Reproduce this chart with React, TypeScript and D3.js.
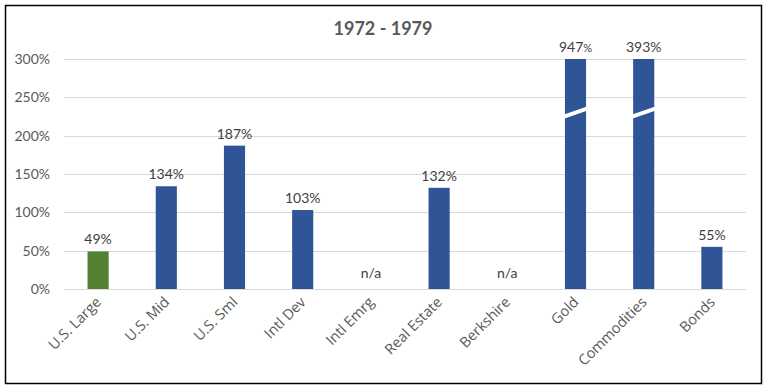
import { useRef, useEffect } from "react";
import * as d3 from "d3";

const categories = ["U.S. Large", "U.S. Mid", "U.S. Sml", "Intl Dev", "Intl Emrg", "Real Estate", "Berkshire", "Gold", "Commodities", "Bonds"];
const values: (number | null)[] = [49, 134, 187, 103, null, 132, null, 947, 393, 55];
const yTicks = [0, 50, 100, 150, 200, 250, 300];
const axisMax = 300;

export default function App() {
  const svgRef = useRef<SVGSVGElement>(null);

  useEffect(() => {
    const svg = d3.select(svgRef.current);
    svg.selectAll("*").remove();
    const W = 767, H = 389;
    const left = 64, right = 746, top = 59, bottom = 289;
    const font = "Lato, 'Open Sans', sans-serif";
    const catFont = "'Open Sans', sans-serif";

    // outer frame
    svg.append("rect").attr("x", 5.5).attr("y", 5.5).attr("width", W - 11).attr("height", H - 11)
      .attr("fill", "#fff").attr("stroke", "#000").attr("stroke-width", 1.5);

    svg.append("text").attr("x", 383).attr("y", 35).attr("text-anchor", "middle")
      .attr("font-family", font).attr("font-weight", "bold").attr("font-size", 18).attr("fill", "#595959")
      .text("1972 - 1979");

    const x = d3.scaleBand().domain(categories).range([left, right]).paddingInner(0.69).paddingOuter(0.345);
    const y = d3.scaleLinear().domain([0, axisMax]).range([bottom, top]);

    // gridlines + y labels
    svg.append("g").selectAll("line").data(yTicks).join("line")
      .attr("x1", left).attr("x2", right)
      .attr("y1", (d) => Math.round(y(d)) + 0.5).attr("y2", (d) => Math.round(y(d)) + 0.5)
      .attr("stroke", "#d9d9d9").attr("stroke-width", 1);
    svg.append("g").selectAll("text").data(yTicks).join("text")
      .attr("x", 50).attr("y", (d) => y(d) + 5).attr("text-anchor", "end")
      .attr("font-family", font).attr("font-size", 14).attr("fill", "#595959")
      .text((d) => `${d}%`);

    const data = categories.map((c, i) => ({ c, v: values[i] }));

    // bars (capped at axis max)
    svg.append("g").selectAll("rect").data(data.filter((d) => d.v !== null)).join("rect")
      .attr("x", (d) => x(d.c)!)
      .attr("width", x.bandwidth())
      .attr("y", (d) => y(Math.min(d.v!, axisMax)))
      .attr("height", (d) => bottom - y(Math.min(d.v!, axisMax)))
      .attr("fill", (d) => (d.c === "U.S. Large" ? "#548235" : "#2f5597"));

    // break marks for bars beyond the axis
    svg.append("g").selectAll("path").data(data.filter((d) => d.v !== null && d.v > axisMax)).join("path")
      .attr("d", (d) => {
        const x0 = x(d.c)! - 1, x1 = x(d.c)! + x.bandwidth() + 1;
        const yc = y(230);
        return `M${x0},${yc + 4} L${x1},${yc - 4}`;
      })
      .attr("stroke", "#fff").attr("stroke-width", 4);

    // value labels
    const lab = svg.append("g").selectAll("text").data(data).join("text")
      .attr("x", (d) => x(d.c)! + x.bandwidth() / 2)
      .attr("y", (d) => (d.v === null ? bottom - 11 : y(Math.min(d.v, axisMax)) - 7))
      .attr("text-anchor", "middle")
      .attr("font-family", font).attr("font-size", 14)
      .attr("fill", "#404040");
    lab.each(function (d) {
      const t = d3.select(this);
      if (d.v === null) { t.text("n/a"); return; }
      t.append("tspan").text(String(d.v));
      t.append("tspan").attr("font-size", d.c === "Gold" ? 11 : 14).text("%");
    });

    // x labels rotated
    svg.append("g").selectAll("text").data(categories).join("text")
      .attr("transform", (d) => `translate(${x(d)! + x.bandwidth() / 2 + 4},${bottom + 14}) rotate(-45)`)
      .attr("text-anchor", "end")
      .attr("font-family", catFont).attr("font-size", 14.5).attr("fill", "#595959")
      .text((d) => d);
  }, []);

  return <svg ref={svgRef} width={767} height={389} style={{ position: "absolute", left: 0, top: 0 }} />;
}
